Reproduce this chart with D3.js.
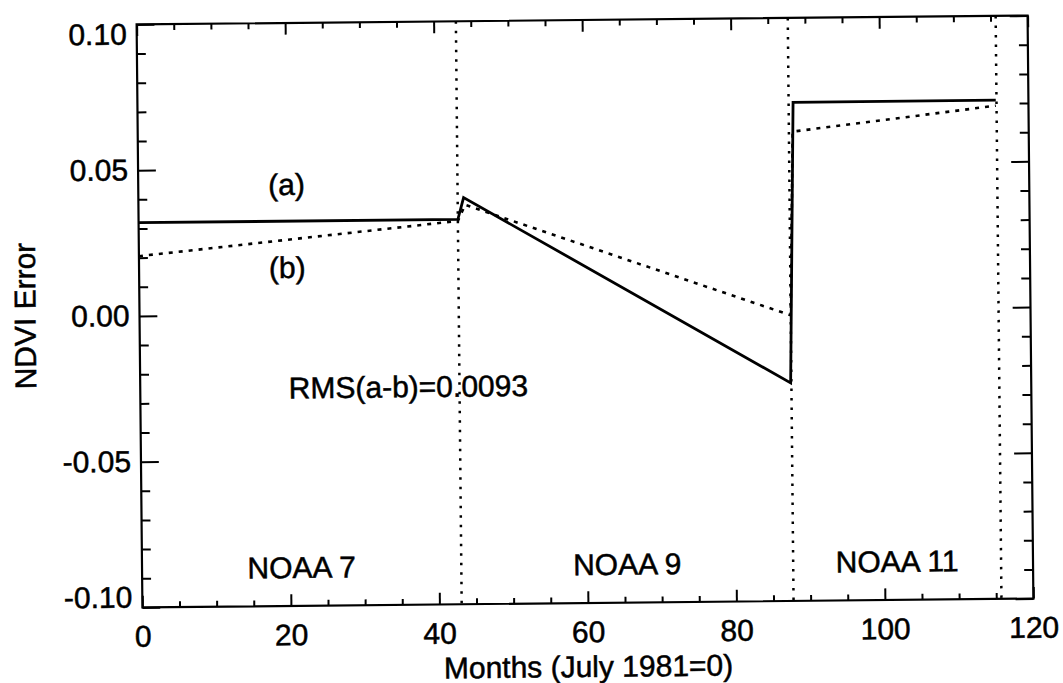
<!DOCTYPE html>
<html>
<head>
<meta charset="utf-8">
<script src="https://cdn.jsdelivr.net/npm/d3@7"></script>
<style>
  html, body { margin: 0; padding: 0; background: #fff; }
  svg text { font-family: "Liberation Sans", Arial, Helvetica, sans-serif; fill: #000; stroke: #000; stroke-width: 0.5px; }
</style>
</head>
<body>
<svg id="chart" width="1063" height="683"></svg>
<script>
// NDVI error through the NOAA-7 / NOAA-9 / NOAA-11 record
const monthsA = [0, 43, 43.8, 87.6, 88.3, 115.6];
const errorA  = [0.032, 0.032, 0.0395, -0.0252, 0.0710, 0.0711];

const monthsB = [0, 43, 44.0, 87.7, 88.2, 115.6];
const errorB  = [0.0205, 0.0315, 0.0370, -0.0020, 0.0610, 0.0692];

const satelliteBreaks = [43, 87.7, 115.7];
const satelliteNames  = ["NOAA 7", "NOAA 9", "NOAA 11"];
const satelliteStarts = [0, 43, 87.7];

const xTickValues = [0, 20, 40, 60, 80, 100, 120];
const xTickLabels = ["0", "20", "40", "60", "80", "100", "120"];
const yTickValues = [-0.10, -0.05, 0.00, 0.05, 0.10];
const yTickLabels = ["-0.10", "-0.05", "0.00", "0.05", "0.10"];

const xTitle = "Months (July 1981=0)";
const yTitle = "NDVI Error";
const rmsText = "RMS(a-b)=0.0093";

const box = { left: 139.5, right: 1030.5, top: 20, bottom: 603 };
const W = box.right - box.left, H = box.bottom - box.top;
const FONT = 30;

const svg = d3.select("#chart");
const root = svg.append("g").attr("transform", "rotate(-0.57, 585, 311.5)");
const g = root.append("g").attr("transform", `translate(${box.left},${box.top})`);

const x = d3.scaleLinear().domain([0, 120]).range([0, W]);
const y = d3.scaleLinear().domain([-0.10, 0.10]).range([H, 0]);

const xLen = 0.02 * H, yLen = 0.02 * W;   // tick lengths
const xMinor = d3.range(0, 121, 5).filter(v => v % 20 !== 0);
const yMinor = d3.range(-10, 11, 1).filter(v => v % 5 !== 0).map(v => v / 100);

function styleAxis(sel) {
  sel.select(".domain").remove();
  sel.selectAll("line").attr("stroke", "#000").attr("stroke-width", 2);
  sel.selectAll("text").style("font-size", FONT + "px").attr("fill", "#000");
}

// bottom axis with labels
const bottom = g.append("g").attr("transform", `translate(0,${H})`)
  .call(d3.axisBottom(x).tickValues(xTickValues).tickSize(-xLen).tickPadding(18)
    .tickFormat((d, i) => xTickLabels[i]));
styleAxis(bottom);
g.append("g").attr("transform", `translate(0,${H})`)
  .call(d3.axisBottom(x).tickValues(xMinor).tickSize(-xLen / 2).tickFormat(""))
  .call(styleAxis);

// top axis (ticks only)
g.append("g").call(d3.axisTop(x).tickValues(xTickValues).tickSize(-xLen).tickFormat("")).call(styleAxis);
g.append("g").call(d3.axisTop(x).tickValues(xMinor).tickSize(-xLen / 2).tickFormat("")).call(styleAxis);

// left axis with labels
const left = g.append("g")
  .call(d3.axisLeft(y).tickValues(yTickValues).tickSize(-yLen).tickPadding(10)
    .tickFormat((d, i) => yTickLabels[i]));
styleAxis(left);
left.selectAll("text").attr("y", d => d >= 0.1 - 1e-9 ? 10 : (d <= -0.1 + 1e-9 ? -10 : 0));
g.append("g").call(d3.axisLeft(y).tickValues(yMinor).tickSize(-yLen / 2).tickFormat("")).call(styleAxis);

// right axis (ticks only)
g.append("g").attr("transform", `translate(${W},0)`)
  .call(d3.axisRight(y).tickValues(yTickValues).tickSize(-yLen).tickFormat("")).call(styleAxis);
g.append("g").attr("transform", `translate(${W},0)`)
  .call(d3.axisRight(y).tickValues(yMinor).tickSize(-yLen / 2).tickFormat("")).call(styleAxis);

// frame
g.append("rect").attr("x", 0).attr("y", 0).attr("width", W).attr("height", H)
  .attr("fill", "none").attr("stroke", "#000").attr("stroke-width", 2.2);

// satellite boundaries
g.selectAll(".break").data(satelliteBreaks).join("line")
  .attr("x1", d => x(d)).attr("x2", d => x(d))
  .attr("y1", 0).attr("y2", H)
  .attr("stroke", "#000").attr("stroke-width", 2.5)
  .attr("stroke-dasharray", "2.5,7");

// series
const line = d3.line().x(d => x(d[0])).y(d => y(d[1]));
const seriesA = monthsA.map((m, i) => [m, errorA[i]]);
const seriesB = monthsB.map((m, i) => [m, errorB[i]]);

g.append("path").datum(seriesB).attr("d", line)
  .attr("fill", "none").attr("stroke", "#000").attr("stroke-width", 2.6)
  .attr("stroke-dasharray", "4,6");
g.append("path").datum(seriesA).attr("d", line)
  .attr("fill", "none").attr("stroke", "#000").attr("stroke-width", 2.8)
  .attr("stroke-linejoin", "miter");

// annotations
function label(txt, mx, vy, anchor) {
  g.append("text").attr("x", x(mx)).attr("y", y(vy))
    .attr("text-anchor", anchor || "start").style("font-size", FONT + "px").text(txt);
}
label("(a)", 17.5, 0.041);
label("(b)", 17.5, 0.0125);
label(rmsText, 20, -0.0288);
satelliteNames.forEach((n, i) => {
  const mid = (satelliteStarts[i] + satelliteBreaks[i]) / 2;
  label(n, mid, -0.0904, "middle");
});

// axis titles
g.append("text").attr("x", W / 2).attr("y", H + 74).attr("text-anchor", "middle")
  .style("font-size", FONT + "px").text(xTitle);
g.append("text").attr("transform", `translate(${35.5 - box.left},${H / 2 - 1}) rotate(-90)`)
  .attr("text-anchor", "middle").style("font-size", FONT + "px").text(yTitle);
</script>
</body>
</html>
